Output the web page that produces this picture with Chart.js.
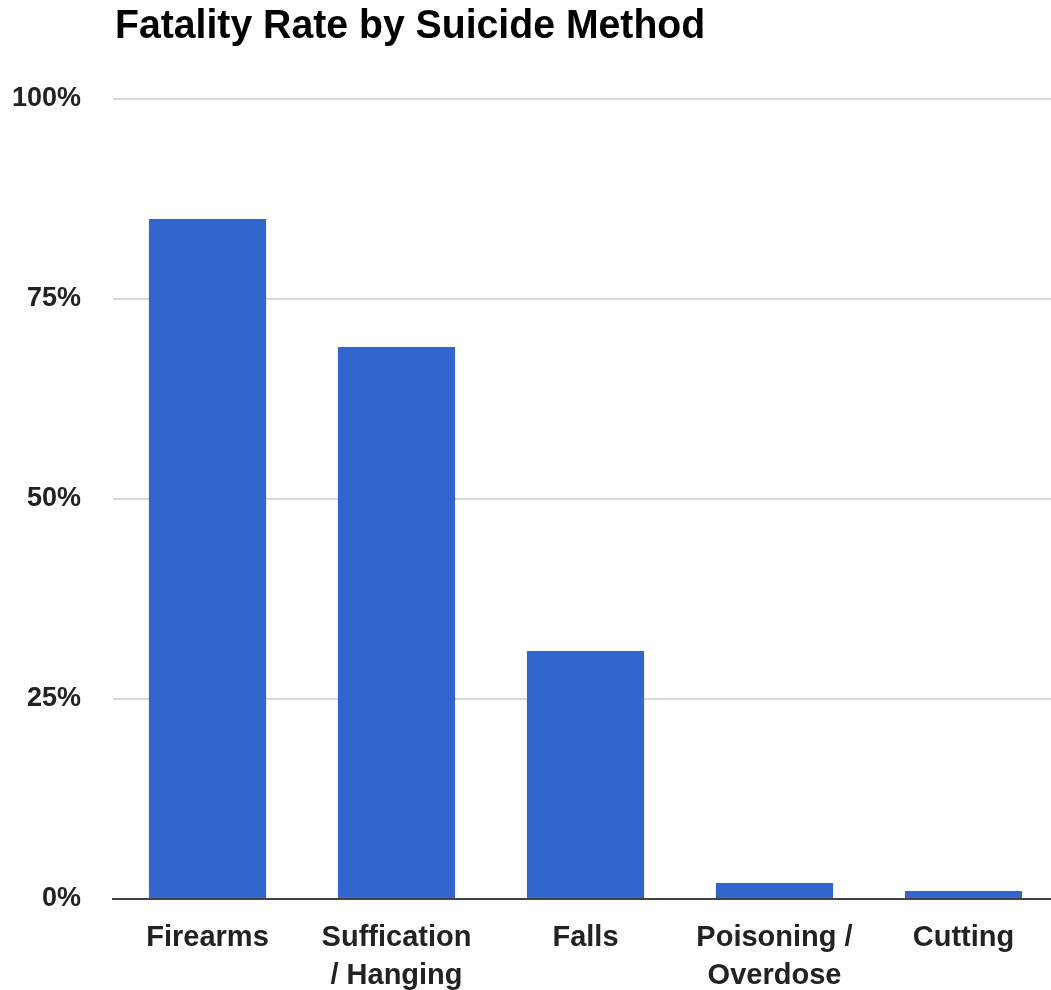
<!DOCTYPE html>
<html>
<head>
<meta charset="utf-8">
<script src="https://cdn.jsdelivr.net/npm/chart.js@4.4.1/dist/chart.umd.min.js"></script>
<style>
  html, body { margin: 0; padding: 0; background: #fff; overflow: hidden; }
  #wrap { position: relative; width: 1060px; height: 990px; overflow: hidden; }
  #title {
    position: absolute; left: 115px; top: 4px; margin: 0;
    font: bold 41px/1 "Liberation Sans", Arial, sans-serif; color: #000;
    white-space: nowrap;
    transform: scaleX(0.956); transform-origin: 0 0;
  }
  canvas { display: block; }
</style>
</head>
<body>
<div id="wrap">
  <h1 id="title">Fatality Rate by Suicide Method</h1>
  <canvas id="chart" width="1060" height="990"></canvas>
</div>
<script>
// Methods (x-axis categories), each label split into its display lines
const methods = [
  ["Firearms"],
  ["Suffication", "/ Hanging"],
  ["Falls"],
  ["Poisoning /", "Overdose"],
  ["Cutting"]
];
// Share of attempts that are fatal, in percent
const fatalityRate = [85, 69, 31, 2, 1];
// Y-axis tick values
const yTicks = [0, 25, 50, 75, 100];

const fontFamily = "'Liberation Sans', Arial, sans-serif";

new Chart(document.getElementById("chart"), {
  type: "bar",
  data: {
    labels: methods,
    datasets: [{
      label: "Fatality rate",
      data: fatalityRate,
      backgroundColor: "#3366CC",
      borderWidth: 0,
      barPercentage: 0.62,
      categoryPercentage: 1.0
    }]
  },
  options: {
    responsive: false,
    animation: false,
    layout: { padding: { left: 11, right: 2, top: 99, bottom: 0 } },
    plugins: {
      legend: { display: false },
      title: { display: false },
      tooltip: { enabled: false }
    },
    scales: {
      x: {
        afterFit: (axis) => { axis.height = 91; },
        grid: { display: false, drawTicks: false },
        border: { display: true, color: "#444", width: 2 },
        ticks: {
          color: "#222",
          font: { family: fontFamily, size: 29, weight: "bold", lineHeight: 1.31 },
          padding: 20,
          maxRotation: 0,
          autoSkip: false
        }
      },
      y: {
        min: 0,
        max: 100,
        afterBuildTicks: (axis) => { axis.ticks = yTicks.map(v => ({ value: v })); },
        afterFit: (axis) => { axis.width = 102; },
        grid: { color: "#d9d9d9", lineWidth: 2, drawTicks: false },
        border: { display: false },
        ticks: {
          color: "#222",
          font: { family: fontFamily, size: 27, weight: "bold" },
          padding: 32,
          callback: (v) => v + "%"
        }
      }
    }
  }
});
</script>
</body>
</html>
